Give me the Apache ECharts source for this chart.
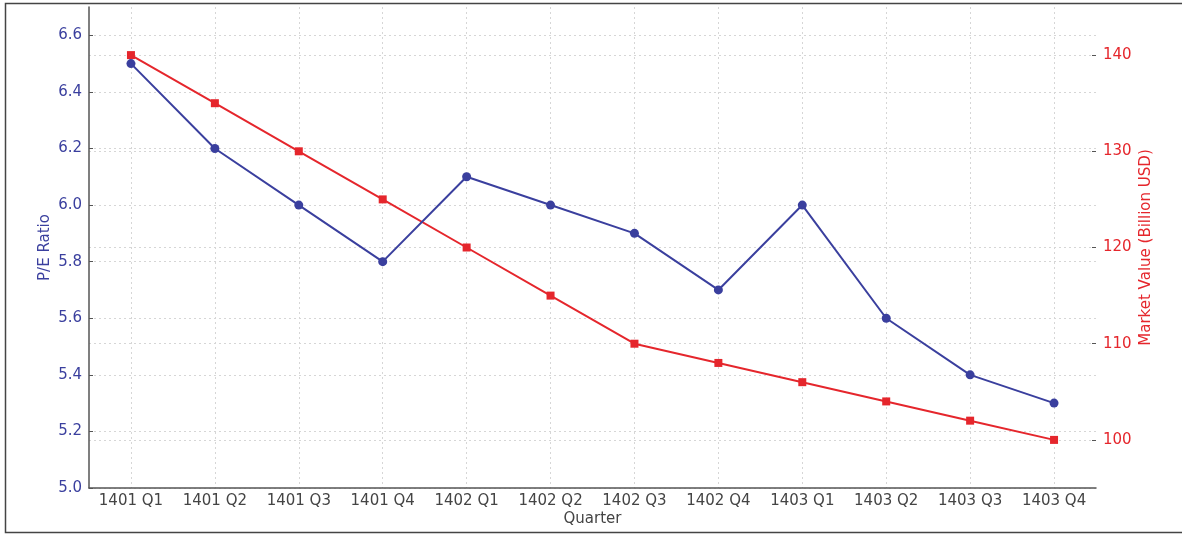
<!DOCTYPE html>
<html><head><meta charset="utf-8">
<script src="https://cdn.jsdelivr.net/npm/echarts@6/dist/echarts.min.js"></script>
<style>html,body{margin:0;padding:0;background:#fff}#c{width:1182px;height:535px}</style>
</head><body><div id="c"></div>
<script>
const categories = ['1401 Q1','1401 Q2','1401 Q3','1401 Q4','1402 Q1','1402 Q2','1402 Q3','1402 Q4','1403 Q1','1403 Q2','1403 Q3','1403 Q4'];
const peRatio = [6.5, 6.2, 6.0, 5.8, 6.1, 6.0, 5.9, 5.7, 6.0, 5.6, 5.4, 5.3];
const marketValue = [140, 135, 130, 125, 120, 115, 110, 108, 106, 104, 102, 100];
const leftTicks = [5.0, 5.2, 5.4, 5.6, 5.8, 6.0, 6.2, 6.4, 6.6];
const rightTicks = [100, 110, 120, 130, 140];

const BLUE = '#3a3f9e', RED = '#e5262c', FONT = 'DejaVu Sans';
const chart = echarts.init(document.getElementById('c'));
chart.setOption({
  animation: false,
  backgroundColor: '#fff',
  graphic: [{type:'rect', shape:{x:5.5,y:3.5,width:1190,height:529}, style:{fill:'none', stroke:'#444', lineWidth:1.5}, silent:true}],
  grid: {left: 89, right: 86, top: 7, bottom: 47},
  xAxis: {
    type: 'category', data: categories, boundaryGap: true,
    name: 'Quarter', nameLocation: 'middle', nameGap: 24, nameMoveOverlap: false,
    nameTextStyle: {color:'#444', fontFamily: FONT, fontSize: 15},
    axisLine: {lineStyle:{color:'#555', width:1.5}},
    axisTick: {alignWithLabel:true, inside:true, length:4, lineStyle:{color:'#555'}},
    axisLabel: {color:'#444', fontFamily: FONT, fontSize: 15, margin: 6},
    splitLine: {show:true, alignWithLabel:true, lineStyle:{color:'#d6d6d6', type:[2,3], width:1}}
  },
  yAxis: [{
    type: 'value', min: 5.0, max: 6.7, position: 'left',
    name: 'P/E Ratio', nameLocation: 'middle', nameGap: 36, nameRotate: 90, nameMoveOverlap: false,
    nameTextStyle: {color: BLUE, fontFamily: FONT, fontSize: 15},
    axisLine: {show:true, lineStyle:{color:'#555', width:1.5}},
    axisTick: {show:true, inside:true, length:4, customValues: leftTicks, lineStyle:{color:'#555'}},
    axisLabel: {color: BLUE, fontFamily: FONT, fontSize: 15, margin: 7, customValues: leftTicks, formatter: v => v.toFixed(1)},
    splitLine: {show:true, lineStyle:{color:'#d6d6d6', type:[2,3], width:1}}
  },{
    type: 'value', min: 95, max: 145, position: 'right',
    name: 'Market Value (Billion USD)', nameLocation: 'middle', nameGap: 43, nameRotate: 90, nameMoveOverlap: false,
    nameTextStyle: {color: RED, fontFamily: FONT, fontSize: 15},
    axisLine: {show:false},
    axisTick: {show:true, inside:true, length:4, customValues: rightTicks, lineStyle:{color:'#555'}},
    axisLabel: {color: RED, fontFamily: FONT, fontSize: 15, margin: 7, customValues: rightTicks},
    splitLine: {show:true, lineStyle:{color:'#d6d6d6', type:[2,3], width:1}}
  }],
  series: [{
    type: 'line', name: 'P/E Ratio', data: peRatio, yAxisIndex: 0,
    symbol: 'circle', symbolSize: 9, itemStyle:{color: BLUE}, lineStyle:{color: BLUE, width: 2}, z: 3
  },{
    type: 'line', name: 'Market Value', data: marketValue, yAxisIndex: 1,
    symbol: 'rect', symbolSize: 8, itemStyle:{color: RED}, lineStyle:{color: RED, width: 2}, z: 2
  }]
});
</script></body></html>
